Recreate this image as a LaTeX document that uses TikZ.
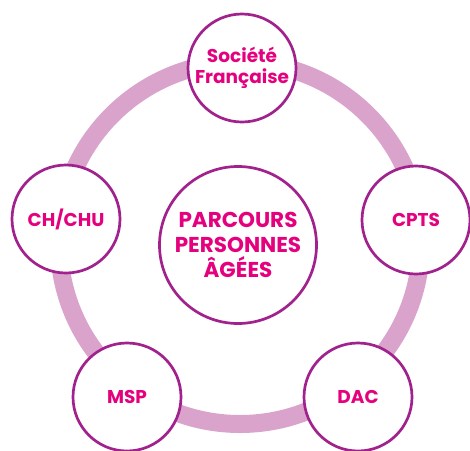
\documentclass[tikz,border=0pt]{standalone}
\usepackage{fontspec}
\setmainfont{Poppins}
\usepackage{xcolor}
\usetikzlibrary{positioning}

\definecolor{ringlila}{HTML}{D9A3CC}
\definecolor{randlila}{HTML}{A2228D}
\definecolor{textrosa}{HTML}{E5007D}

\begin{document}
\begin{tikzpicture}[x=1pt, y=-1pt,
  every node/.style={text=textrosa, align=center},
  akteur/.style={circle, draw=randlila, line width=2.7pt, fill=white,
    minimum size=108pt, inner sep=0pt,
    font=\bfseries\fontsize{18.5}{21}\selectfont},
  mitte/.style={akteur, minimum size=157pt,
    font=\bfseries\fontsize{21.5}{25}\selectfont}]
\useasboundingbox (0,0) rectangle (470,450);

% Ring
\coordinate (ringmitte) at (240,243);
\draw[ringlila, line width=18pt] (ringmitte) circle[radius=181];

% Mitte
\node[mitte] (parcours) at (238,245) {PARCOURS\\PERSONNES\\ÂGÉES};

% Akteure auf dem Ring
\node[akteur] (societe) at (242,68) {Société\\Française};
\node[akteur] (cpts) at (416,220) {CPTS};
\node[akteur] (dac) at (358,397) {DAC};
\node[akteur] (msp) at (127,397) {MSP};
\node[akteur] (chchu) at (66,219) {CH/CHU};

\end{tikzpicture}
\end{document}
